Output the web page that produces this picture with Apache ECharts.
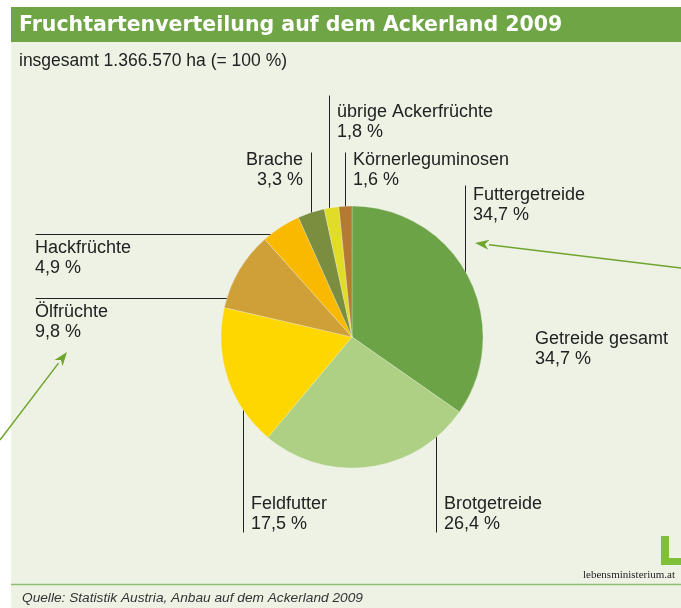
<!DOCTYPE html>
<html>
<head>
<meta charset="utf-8">
<script src="https://cdn.jsdelivr.net/npm/echarts@6/dist/echarts.min.js"></script>
<style>
  html, body { margin: 0; padding: 0; background: #fff; }
  #main { width: 681px; height: 608px; }
</style>
</head>
<body>
<div id="main"></div>
<script>
// Werte in Prozent, im Uhrzeigersinn ab 12 Uhr
var names = ['Futtergetreide', 'Brotgetreide', 'Feldfutter', 'Ölfrüchte',
  'Hackfrüchte', 'Brache', 'übrige Ackerfrüchte', 'Körnerleguminosen'];
var values = [34.7, 26.4, 17.5, 9.8, 4.9, 3.3, 1.8, 1.6];
var colors = ['#6ba346', '#add085', '#fed700', '#cf9f38',
  '#f8b900', '#7b8d3e', '#e1dc28', '#b47a34'];
var getreideGesamt = 34.7;

// Beschriftungen: Position des Textes und der Linie
var labelPos = [
  { x: 473, y: 185, align: 'left',  line: [[465, 282], [465, 185]] },
  { x: 444, y: 494, align: 'left',  line: [[436, 432], [436, 532]] },
  { x: 251, y: 494, align: 'left',  line: [[243, 403], [243, 532]] },
  { x: 35,  y: 302, align: 'left',  line: [[235, 298], [35, 298]] },
  { x: 35,  y: 238, align: 'left',  line: [[277, 234], [35, 234]] },
  { x: 303, y: 150, align: 'right', line: [[311, 216], [311, 152]] },
  { x: 337, y: 102, align: 'left',  line: [[329, 210], [329, 95]] },
  { x: 353, y: 150, align: 'left',  line: [[345, 210], [345, 152]] }
];

function pct(v) { return v.toFixed(1).replace('.', ',') + ' %'; }

function arrow(x1, y1, x2, y2) {
  var a = Math.atan2(y2 - y1, x2 - x1), L = 14, W = 5;
  var bx = x2 - L * Math.cos(a), by = y2 - L * Math.sin(a);
  var nx = -Math.sin(a) * W, ny = Math.cos(a) * W;
  return [
    { type: 'line', shape: { x1: x1, y1: y1, x2: bx, y2: by },
      style: { stroke: '#6fa52e', lineWidth: 1.5 } },
    { type: 'polygon', shape: { points: [[x2, y2], [bx + nx, by + ny], [bx + 4 * Math.cos(a), by + 4 * Math.sin(a)], [bx - nx, by - ny]] },
      style: { fill: '#6fa52e' } }
  ];
}

var data = names.map(function (n, i) {
  return { name: n, value: values[i], itemStyle: { color: colors[i] } };
});

var chart = echarts.init(document.getElementById('main'));
var graphics = [
  { type: 'rect', shape: { x: 11, y: 42, width: 670, height: 566 }, style: { fill: '#eef2e4' }, z: -10 },
  { type: 'rect', shape: { x: 11, y: 7, width: 670, height: 35 }, style: { fill: '#6fa544' }, z: -10 },
  { type: 'text', x: 19, y: 26, style: { text: 'Fruchtartenverteilung auf dem Ackerland 2009', fill: '#fff',
      font: 'bold 20.5px "DejaVu Sans", sans-serif', verticalAlign: 'middle' } },
  { type: 'text', x: 19, y: 61, style: { text: 'insgesamt 1.366.570 ha (= 100 %)', fill: '#222',
      font: '17.5px "Liberation Sans", Arial, sans-serif', verticalAlign: 'middle' } },
  { type: 'text', x: 535, y: 329, style: { text: 'Getreide gesamt\n' + pct(getreideGesamt), fill: '#222',
      font: '18px "Liberation Sans", Arial, sans-serif', lineHeight: 20, verticalAlign: 'top' } },
  { type: 'line', shape: { x1: 11, y1: 584.5, x2: 681, y2: 584.5 }, style: { stroke: '#8fbf6a', lineWidth: 1.5 } },
  { type: 'text', x: 22, y: 598, style: { text: 'Quelle: Statistik Austria, Anbau auf dem Ackerland 2009', fill: '#333',
      font: 'italic 13.7px "Liberation Sans", Arial, sans-serif', verticalAlign: 'middle' } },
  { type: 'rect', shape: { x: 661, y: 536, width: 8, height: 29 }, style: { fill: '#7fbf3a' } },
  { type: 'rect', shape: { x: 661, y: 558, width: 20, height: 7 }, style: { fill: '#7fbf3a' } },
  { type: 'text', x: 675, y: 575, style: { text: 'lebensministerium.at', fill: '#222', align: 'right',
      font: '11px "Liberation Serif", "Times New Roman", serif', verticalAlign: 'middle' } }
].concat(arrow(681, 268, 475, 243), arrow(0, 440, 67, 352));

chart.setOption({
  backgroundColor: '#fff',
  animation: false,
  graphic: graphics,
  series: [{
    type: 'pie',
    center: [352, 337],
    radius: 131,
    startAngle: 90,
    clockwise: true,
    avoidLabelOverlap: false,
    itemStyle: { borderColor: 'rgba(238,242,228,0.6)', borderWidth: 0.5 },
    label: {
      show: true,
      color: '#222',
      fontFamily: '"Liberation Sans", Arial, sans-serif',
      fontSize: 18,
      lineHeight: 20,
      formatter: function (p) { return p.name + '\n' + pct(p.value); }
    },
    labelLine: { show: true, lineStyle: { color: '#222', width: 1 } },
    labelLayout: function (p) {
      var l = labelPos[p.dataIndex];
      var pts = l.line.map(function (q) { return [q[0] + 0.5, q[1] + 0.5]; });
      return { x: l.x, y: l.y, align: l.align, verticalAlign: 'top',
        labelLinePoints: [pts[0], pts[1], pts[1]] };
    },
    emphasis: { disabled: true },
    data: data
  }]
});
</script>
</body>
</html>
